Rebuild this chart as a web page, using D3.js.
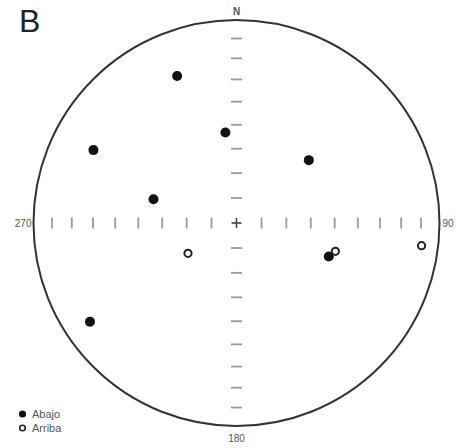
<!DOCTYPE html>
<html><head><meta charset="utf-8">
<script src="https://cdn.jsdelivr.net/npm/d3@7"></script>
<style>html,body{margin:0;padding:0;background:#fff;}svg{display:block;}</style>
</head><body>
<svg id="c" width="459" height="448"></svg>
<script>
// Data: trend (azimuth, deg) and plunge (deg), lower-hemisphere equal-area net
const abajoTrend  = [338, 297, 286, 353, 49, 110, 236];
const abajoPlunge = [23, 22, 55, 53, 51, 50, 14];
const arribaTrend  = [238, 106, 97];
const arribaPlunge = [67, 48, 9];
const tickPlunges = [10, 20, 30, 40, 50, 60, 70, 80];
const dirLabels = ["N", "90", "180", "270"];
const legendLabels = ["Abajo", "Arriba"];
const panelLabel = "B";

const svg = d3.select("#c");
const cx = 236.5, cy = 223, R = 203;
// equal-area radial scale: plunge -> radius
const toRad = Math.PI / 180;
const eqArea = d3.scaleLinear().domain([0, Math.SQRT2]).range([0, R * Math.SQRT2]);
const rScale = p => eqArea(Math.SQRT2 * Math.sin((90 - p) / 2 * toRad));
const proj = (az, p) => {
  const r = rScale(p);
  return [cx + r * Math.sin(az * toRad), cy - r * Math.cos(az * toRad)];
};

// axis ticks
const g = svg.append("g");
[0, 90, 180, 270].forEach(az => {
  tickPlunges.forEach(p => {
    const [x, y] = proj(az, p);
    if (az === 0 || az === 180) {
      g.append("line").attr("x1", x - 5.5).attr("x2", x + 5.5).attr("y1", y).attr("y2", y)
        .attr("stroke", "#9a9a9a").attr("stroke-width", 1.8);
    } else {
      g.append("line").attr("x1", x).attr("x2", x).attr("y1", y - 5.5).attr("y2", y + 5.5)
        .attr("stroke", "#9a9a9a").attr("stroke-width", 1.8);
    }
  });
});
// center cross
g.append("line").attr("x1", cx - 5).attr("x2", cx + 5).attr("y1", cy).attr("y2", cy).attr("stroke", "#444").attr("stroke-width", 1.6);
g.append("line").attr("x1", cx).attr("x2", cx).attr("y1", cy - 5).attr("y2", cy + 5).attr("stroke", "#444").attr("stroke-width", 1.6);

// primitive circle
svg.append("circle").attr("cx", cx).attr("cy", cy).attr("r", rScale(0))
  .attr("fill", "none").attr("stroke", "#333").attr("stroke-width", 2);

// direction labels
const lab = svg.append("g").attr("font-family", "Liberation Sans, Arial, sans-serif").attr("fill", "#555").attr("font-size", 10);
lab.append("text").attr("x", cx).attr("y", 15).attr("text-anchor", "middle").attr("font-weight", "bold").text(dirLabels[0]);
lab.append("text").attr("x", cx + R + 3).attr("y", cy + 4).attr("text-anchor", "start").text(dirLabels[1]);
lab.append("text").attr("x", cx).attr("y", cy + R + 16).attr("text-anchor", "middle").text(dirLabels[2]);
lab.append("text").attr("x", cx - R - 2).attr("y", cy + 4).attr("text-anchor", "end").text(dirLabels[3]);

// panel label
svg.append("text").attr("x", 19).attr("y", 32).attr("font-family", "Liberation Sans, Arial, sans-serif")
  .attr("font-size", 32).attr("fill", "#222").text(panelLabel);

// points
const abajo = abajoTrend.map((t, i) => proj(t, abajoPlunge[i]));
const arriba = arribaTrend.map((t, i) => proj(t, arribaPlunge[i]));
svg.append("g").selectAll("circle").data(abajo).join("circle")
  .attr("cx", d => d[0]).attr("cy", d => d[1]).attr("r", 5).attr("fill", "#111");
svg.append("g").selectAll("circle").data(arriba).join("circle")
  .attr("cx", d => d[0]).attr("cy", d => d[1]).attr("r", 3.6).attr("fill", "#fff")
  .attr("stroke", "#222").attr("stroke-width", 2);

// legend
const lg = svg.append("g").attr("font-family", "Liberation Sans, Arial, sans-serif").attr("font-size", 11).attr("fill", "#555");
lg.append("circle").attr("cx", 22.5).attr("cy", 414).attr("r", 3.6).attr("fill", "#111");
lg.append("circle").attr("cx", 22.5).attr("cy", 428).attr("r", 2.8).attr("fill", "#fff").attr("stroke", "#222").attr("stroke-width", 1.6);
lg.append("text").attr("x", 32).attr("y", 418).text(legendLabels[0]);
lg.append("text").attr("x", 32).attr("y", 432).text(legendLabels[1]);
</script>
</body></html>
